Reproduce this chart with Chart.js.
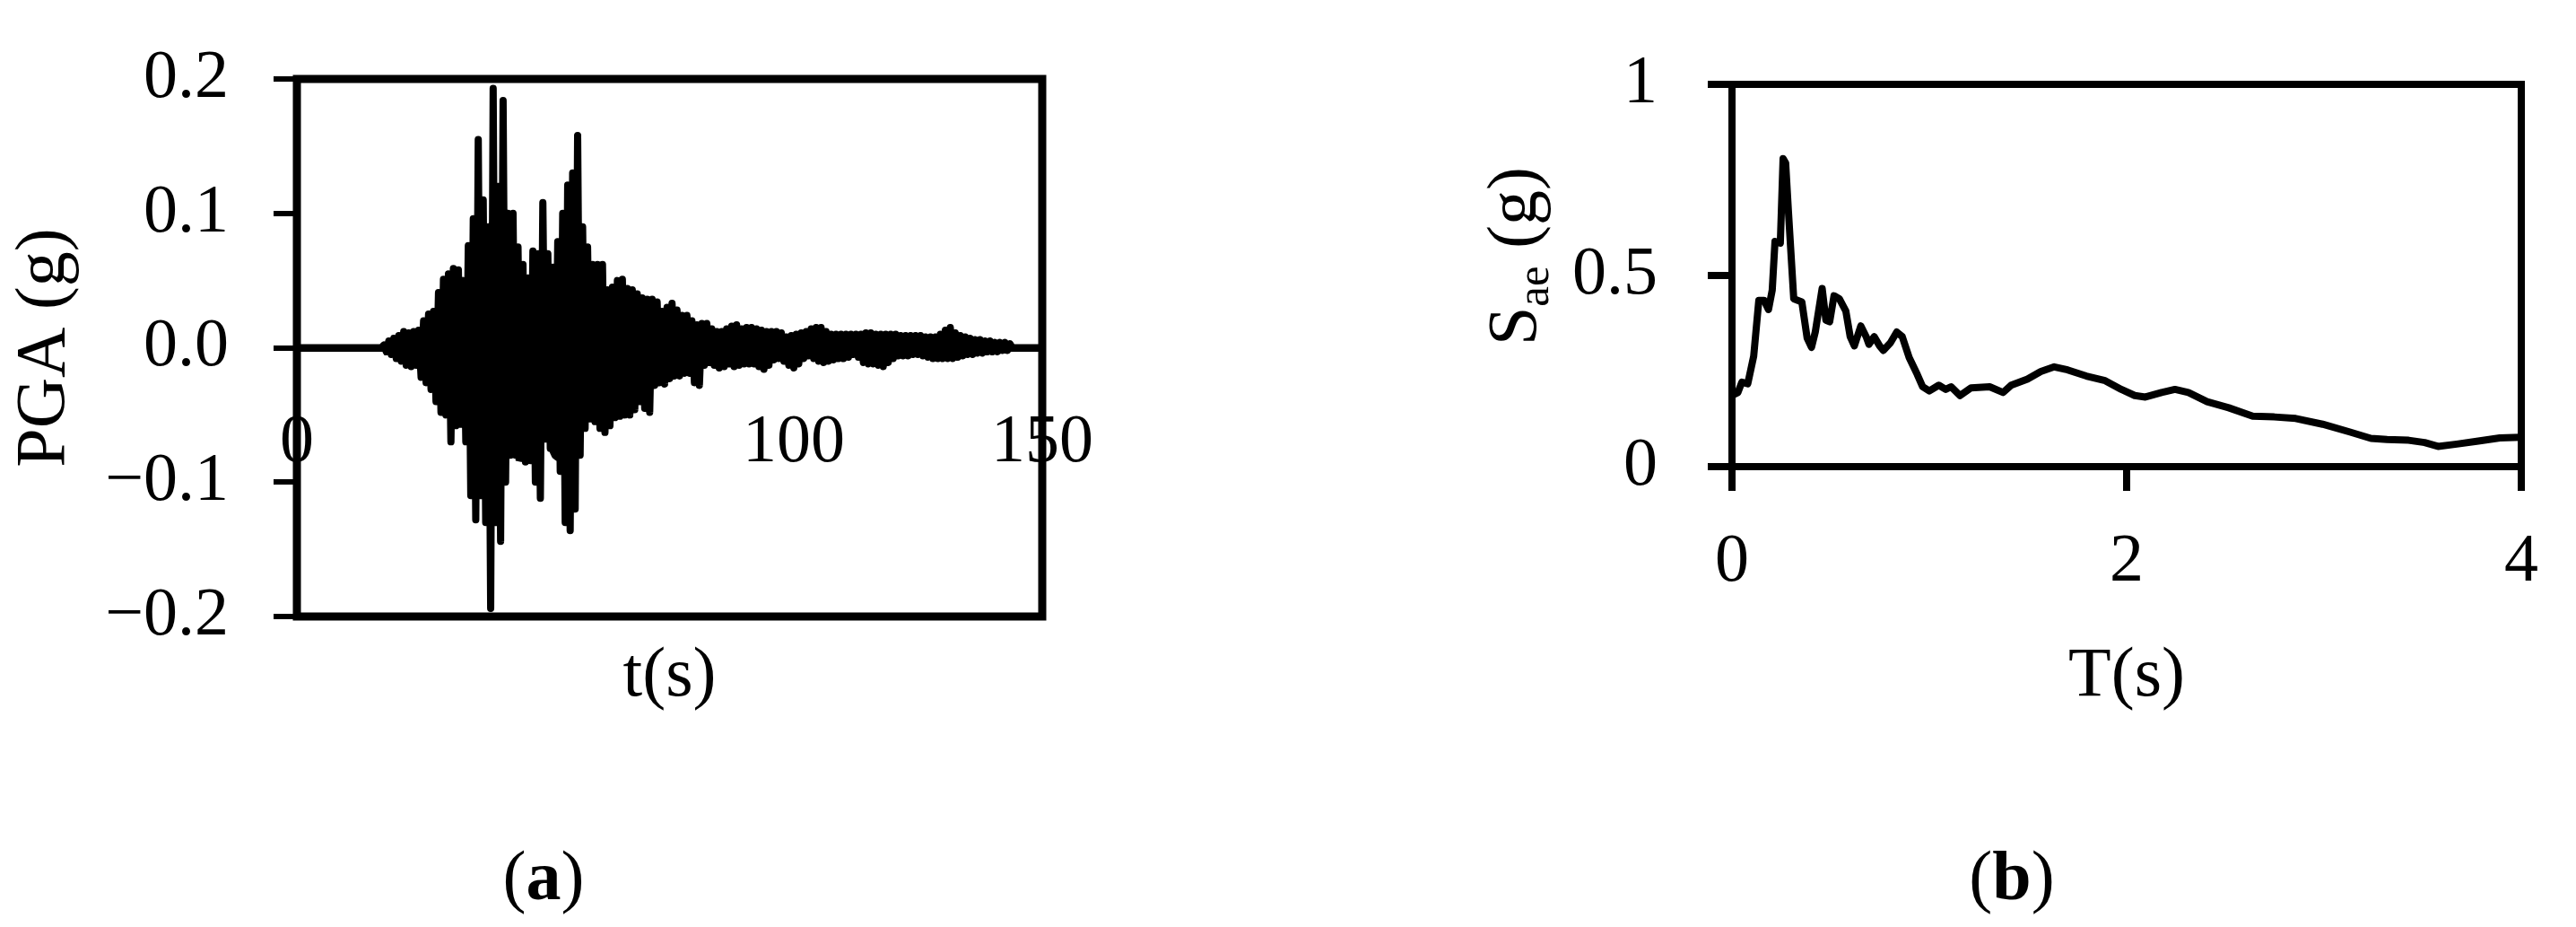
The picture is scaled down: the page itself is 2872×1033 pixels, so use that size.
<!DOCTYPE html>
<html>
<head>
<meta charset="utf-8">
<script src="https://cdn.jsdelivr.net/npm/chart.js@4.4.1/dist/chart.umd.min.js"></script>
<style>
html, body { margin: 0; padding: 0; background: #fff; }
body { width: 2872px; height: 1033px; position: relative; overflow: hidden; }
#ca { position: absolute; left: 0; top: 0; }
#cb { position: absolute; left: 1436px; top: 0; }
</style>
</head>
<body>
<canvas id="ca" width="1436" height="1033"></canvas>
<canvas id="cb" width="1436" height="1033"></canvas>
<script>
// ---------------- DATA ----------------
// (a) accelerogram: time (s) and acceleration (g), alternating extrema
const timeA = [0, 17, 17.5, 18, 18.5, 19, 19.5, 20, 20.5, 21, 21.5, 22, 22.5, 23, 23.5, 24, 24.5, 25, 25.5, 26, 26.5,
  27, 27.5, 28, 28.5, 29, 29.5, 30, 30.5, 31, 31.5, 32, 32.5, 33, 33.5, 34, 34.5, 35, 35.5, 36, 36.5,
  37, 37.5, 38, 38.5, 39, 39.5, 40, 40.5, 41, 41.5, 42, 42.5, 43, 43.5, 44, 44.5, 45, 45.5, 46, 46.5,
  47, 47.5, 48, 48.5, 49, 49.5, 50, 50.5, 51, 51.5, 52, 52.5, 53, 53.5, 54, 54.5, 55, 55.5, 56, 56.5,
  57, 57.5, 58, 58.5, 59, 59.5, 60, 60.5, 61, 61.5, 62, 62.5, 63, 63.5, 64, 64.5, 65, 65.5, 66, 66.5,
  67, 67.5, 68, 68.5, 69, 69.5, 70, 70.5, 71, 71.5, 72, 72.5, 73, 73.5, 74, 74.5, 75, 75.5, 76, 76.5,
  77, 77.5, 78, 78.5, 79, 79.5, 80, 80.5, 81, 81.5, 82, 82.5, 83, 83.5, 84, 84.5, 85, 85.5, 86, 86.5,
  87, 87.5, 88, 88.5, 89, 89.5, 90, 90.5, 91, 91.5, 92, 92.5, 93, 93.5, 94, 94.5, 95, 95.5, 96, 96.5,
  97, 97.5, 98, 98.5, 99, 99.5, 100, 100.5, 101, 101.5, 102, 102.5, 103, 103.5, 104, 104.5, 105, 105.5, 106, 106.5,
  107, 107.5, 108, 108.5, 109, 109.5, 110, 110.5, 111, 111.5, 112, 112.5, 113, 113.5, 114, 114.5, 115, 115.5, 116, 116.5,
  117, 117.5, 118, 118.5, 119, 119.5, 120, 120.5, 121, 121.5, 122, 122.5, 123, 123.5, 124, 124.5, 125, 125.5, 126, 126.5,
  127, 127.5, 128, 128.5, 129, 129.5, 130, 130.5, 131, 131.5, 132, 132.5, 133, 133.5, 134, 134.5, 135, 135.5, 136, 136.5,
  137, 137.5, 138, 138.5, 139, 139.5, 140, 140.5, 141, 141.5, 142, 142.5, 143, 143.5, 144, 150];
const pgaA = [0, 0, 0.002, -0.003, 0.005, -0.005, 0.007, -0.008, 0.009, -0.010, 0.012, -0.013, 0.011, -0.014, 0.012, -0.013, 0.013, -0.022, 0.020, -0.026, 0.025,
  -0.031, 0.027, -0.040, 0.041, -0.048, 0.051, -0.050, 0.055, -0.070, 0.059, -0.058, 0.058, -0.057, 0.050, -0.070, 0.076, -0.110, 0.096, -0.128, 0.155,
  -0.110, 0.110, -0.130, 0.090, -0.194, 0.193, -0.130, 0.120, -0.144, 0.184, -0.100, 0.100, -0.080, 0.100, -0.080, 0.075, -0.081, 0.062, -0.085, 0.052,
  -0.084, 0.072, -0.100, 0.070, -0.112, 0.108, -0.068, 0.070, -0.075, 0.060, -0.080, 0.079, -0.092, 0.100, -0.130, 0.121, -0.136, 0.130, -0.120, 0.158,
  -0.080, 0.090, -0.060, 0.075, -0.053, 0.062, -0.055, 0.062, -0.060, 0.062, -0.063, 0.043, -0.058, 0.045, -0.052, 0.050, -0.051, 0.051, -0.050, 0.044,
  -0.050, 0.043, -0.046, 0.040, -0.040, 0.037, -0.045, 0.036, -0.048, 0.036, -0.028, 0.034, -0.026, 0.027, -0.027, 0.030, -0.023, 0.033, -0.021, 0.028,
  -0.021, 0.024, -0.019, 0.024, -0.019, 0.020, -0.026, 0.017, -0.028, 0.018, -0.013, 0.018, -0.011, 0.014, -0.013, 0.012, -0.015, 0.012, -0.014, 0.014,
  -0.012, 0.016, -0.014, 0.017, -0.013, 0.014, -0.012, 0.015, -0.012, 0.015, -0.012, 0.014, -0.014, 0.013, -0.016, 0.012, -0.013, 0.012, -0.009, 0.012,
  -0.008, 0.011, -0.010, 0.008, -0.013, 0.009, -0.015, 0.010, -0.012, 0.011, -0.008, 0.012, -0.006, 0.014, -0.008, 0.015, -0.010, 0.015, -0.011, 0.012,
  -0.010, 0.010, -0.009, 0.010, -0.008, 0.010, -0.008, 0.010, -0.007, 0.010, -0.005, 0.010, -0.007, 0.010, -0.011, 0.011, -0.012, 0.011, -0.012, 0.010,
  -0.013, 0.010, -0.014, 0.010, -0.011, 0.010, -0.008, 0.010, -0.006, 0.009, -0.006, 0.009, -0.006, 0.009, -0.005, 0.009, -0.005, 0.009, -0.006, 0.008,
  -0.007, 0.008, -0.008, 0.008, -0.008, 0.010, -0.008, 0.013, -0.008, 0.015, -0.008, 0.011, -0.007, 0.009, -0.006, 0.008, -0.005, 0.007, -0.005, 0.006,
  -0.004, 0.006, -0.004, 0.005, -0.003, 0.005, -0.003, 0.004, -0.003, 0.004, -0.002, 0.004, -0.002, 0.003, 0, 0];

// (b) elastic response spectrum: period (s) and Sae (g)
const periodB = [0, 0.03, 0.05, 0.08, 0.11, 0.136, 0.163, 0.185, 0.204, 0.218, 0.245, 0.259, 0.272, 0.286, 0.313, 0.354, 0.381, 0.403, 0.422, 0.457,
  0.476, 0.495, 0.517, 0.544, 0.577, 0.599, 0.62, 0.653, 0.68, 0.694, 0.721, 0.748, 0.767, 0.803, 0.835, 0.863, 0.898, 0.939, 0.966, 1.0,
  1.048, 1.083, 1.11, 1.156, 1.211, 1.306, 1.374, 1.415, 1.497, 1.565, 1.633, 1.701, 1.796, 1.891, 1.973, 2.041, 2.095, 2.177, 2.245, 2.313,
  2.408, 2.517, 2.639, 2.748, 2.857, 2.993, 3.129, 3.238, 3.32, 3.429, 3.51, 3.578, 3.673, 3.782, 3.891, 4.0];
const saeB = [0.186, 0.194, 0.221, 0.217, 0.289, 0.435, 0.435, 0.411, 0.462, 0.589, 0.585, 0.806, 0.794, 0.668, 0.439, 0.431, 0.336, 0.312, 0.352, 0.466,
  0.383, 0.379, 0.447, 0.439, 0.407, 0.340, 0.316, 0.368, 0.340, 0.320, 0.340, 0.316, 0.304, 0.324, 0.352, 0.340, 0.285, 0.241, 0.209, 0.198,
  0.213, 0.202, 0.209, 0.186, 0.206, 0.209, 0.194, 0.213, 0.229, 0.249, 0.261, 0.253, 0.237, 0.225, 0.202, 0.186, 0.182, 0.194, 0.202, 0.194,
  0.170, 0.154, 0.132, 0.130, 0.126, 0.111, 0.091, 0.074, 0.071, 0.069, 0.063, 0.053, 0.059, 0.067, 0.075, 0.077];

// tick values and labels
const ticksA_x = [0, 50, 100, 150];
const ticksA_y = [-0.2, -0.1, 0, 0.1, 0.2];
const labelsA_y = ['\u22120.2', '\u22120.1', '0.0', '0.1', '0.2'];
const ticksB_x = [0, 2, 4];
const ticksB_y = [0, 0.5, 1];
const labelsB_y = ['0', '0.5', '1'];

// ---------------- STYLE ----------------
const SERIF = '"Liberation Serif", "Times New Roman", Times, serif';
const TICK_SIZE = 76;
const TITLE_SIZE = 78;
Chart.defaults.color = '#000';
Chart.defaults.font.family = SERIF;

const tickFont = { family: SERIF, size: TICK_SIZE, lineHeight: 1 };
const titleFont = { family: SERIF, size: TITLE_SIZE, lineHeight: 1 };

const framePlugin = {
  id: 'frame',
  afterDraw(chart, args, opts) {
    const { ctx, chartArea: a } = chart;
    ctx.save();
    ctx.strokeStyle = '#000';
    ctx.lineWidth = opts.width || 8;
    ctx.lineJoin = 'miter';
    ctx.strokeRect(a.left, a.top, a.right - a.left, a.bottom - a.top);
    ctx.restore();
  }
};

const panelPlugin = {
  id: 'panel',
  afterDraw(chart, args, opts) {
    if (!opts.letter) return;
    const ctx = chart.ctx;
    ctx.save();
    ctx.fillStyle = '#000';
    ctx.textBaseline = 'alphabetic';
    const reg = TITLE_SIZE + 'px ' + SERIF;
    const bold = 'bold ' + TITLE_SIZE + 'px ' + SERIF;
    ctx.font = reg; const w1 = ctx.measureText('(').width; const w3 = ctx.measureText(')').width;
    ctx.font = bold; const w2 = ctx.measureText(opts.letter).width;
    let x = opts.x - (w1 + w2 + w3) / 2;
    ctx.textAlign = 'left';
    ctx.font = reg; ctx.fillText('(', x, opts.y); x += w1;
    ctx.font = bold; ctx.fillText(opts.letter, x, opts.y); x += w2;
    ctx.font = reg; ctx.fillText(')', x, opts.y);
    ctx.restore();
  }
};

const saeTitlePlugin = {
  id: 'saeTitle',
  afterDraw(chart, args, opts) {
    if (!opts.show) return;
    const ctx = chart.ctx;
    const big = TITLE_SIZE + 'px ' + SERIF;
    const small = Math.round(TITLE_SIZE * 0.66) + 'px ' + SERIF;
    ctx.save();
    ctx.fillStyle = '#000';
    ctx.textBaseline = 'alphabetic';
    ctx.textAlign = 'left';
    ctx.font = big; const wS = ctx.measureText('S').width; const wG = ctx.measureText(' (g)').width;
    ctx.font = small; const wA = ctx.measureText('ae').width;
    const total = wS + wA + wG;
    ctx.translate(opts.x, opts.y);
    ctx.rotate(-Math.PI / 2);
    let x = -total / 2;
    ctx.font = big; ctx.fillText('S', x, 0); x += wS;
    ctx.font = small; ctx.fillText('ae', x, 14); x += wA;
    ctx.font = big; ctx.fillText(' (g)', x, 0);
    ctx.restore();
  }
};

// ---------------- CHART (a) ----------------
new Chart(document.getElementById('ca'), {
  type: 'line',
  data: {
    datasets: [{
      data: timeA.map((t, i) => ({ x: t, y: pgaA[i] })),
      borderColor: '#000', borderWidth: 8, pointRadius: 0, tension: 0, fill: false,
      borderJoinStyle: 'round', borderCapStyle: 'round'
    }]
  },
  options: {
    responsive: false, animation: false, devicePixelRatio: 1,
    layout: { padding: { left: 0, top: 51, right: 274, bottom: 0 } },
    plugins: {
      legend: { display: false }, tooltip: { enabled: false },
      frame: { width: 9 },
      panel: { letter: 'a', x: 606, y: 1002 },
      saeTitle: { show: false }
    },
    scales: {
      x: {
        type: 'linear', position: { y: 0 }, min: ticksA_x[0], max: ticksA_x[ticksA_x.length - 1],
        afterBuildTicks: s => { s.ticks = ticksA_x.map(v => ({ value: v })); },
        ticks: { autoSkip: false, maxRotation: 0, padding: 69, font: tickFont, color: '#000' },
        grid: { display: false, drawTicks: false },
        border: { display: true, color: '#000', width: 8 }
      },
      xt: {
        type: 'linear', position: 'bottom', min: 0, max: 150,
        ticks: { display: false },
        grid: { display: false, drawTicks: false },
        border: { display: false },
        title: { display: true, text: 't(s)', color: '#000', font: titleFont, padding: { top: 0, bottom: 239 } },
        afterFit: s => { s.height = 346; }
      },
      y: {
        type: 'linear', position: 'left', min: -0.2, max: 0.2,
        afterBuildTicks: s => { s.ticks = ticksA_y.map(v => ({ value: v })); },
        ticks: { padding: 50, font: tickFont, color: '#000', callback: (v, i) => labelsA_y[i] },
        grid: { display: true, drawOnChartArea: false, drawTicks: true, tickLength: 26, tickWidth: 6, lineWidth: 6, color: '#000', tickColor: '#000' },
        border: { display: false },
        title: { display: true, text: 'PGA (g)', color: '#000', font: titleFont, padding: { top: 12, bottom: 0 } },
        afterFit: s => { s.width = 331; }
      }
    }
  },
  plugins: [framePlugin, panelPlugin, saeTitlePlugin]
});

// ---------------- CHART (b) ----------------
new Chart(document.getElementById('cb'), {
  type: 'line',
  data: {
    datasets: [{
      data: periodB.map((t, i) => ({ x: t, y: saeB[i] })),
      borderColor: '#000', borderWidth: 8, pointRadius: 0, tension: 0, fill: false,
      borderJoinStyle: 'round', borderCapStyle: 'round'
    }]
  },
  options: {
    responsive: false, animation: false, devicePixelRatio: 1,
    layout: { padding: { left: 0, top: 51, right: 30, bottom: 0 } },
    plugins: {
      legend: { display: false }, tooltip: { enabled: false },
      frame: { width: 8 },
      panel: { letter: 'b', x: 807, y: 1002 },
      saeTitle: { show: true, x: 276, y: 285.5 }
    },
    scales: {
      x: {
        type: 'linear', position: 'bottom', min: 0, max: 4,
        afterBuildTicks: s => { s.ticks = ticksB_x.map(v => ({ value: v })); },
        ticks: { autoSkip: false, maxRotation: 0, padding: 42, font: tickFont, color: '#000' },
        grid: { display: true, drawOnChartArea: false, drawTicks: true, tickLength: 27, tickWidth: 8, lineWidth: 8, color: '#000', tickColor: '#000' },
        border: { display: false },
        title: { display: true, text: 'T(s)', color: '#000', font: titleFont, padding: { top: 0, bottom: 239 } },
        afterFit: s => { s.height = 513; }
      },
      y: {
        type: 'linear', position: 'left', min: 0, max: 1,
        afterBuildTicks: s => { s.ticks = ticksB_y.map(v => ({ value: v })); },
        ticks: { padding: 56, font: tickFont, color: '#000', callback: (v, i) => labelsB_y[i] },
        grid: { display: true, drawOnChartArea: false, drawTicks: true, tickLength: 27, tickWidth: 8, lineWidth: 8, color: '#000', tickColor: '#000' },
        border: { display: false },
        afterFit: s => { s.width = 495; }
      }
    }
  },
  plugins: [framePlugin, panelPlugin, saeTitlePlugin]
});
</script>
</body>
</html>
